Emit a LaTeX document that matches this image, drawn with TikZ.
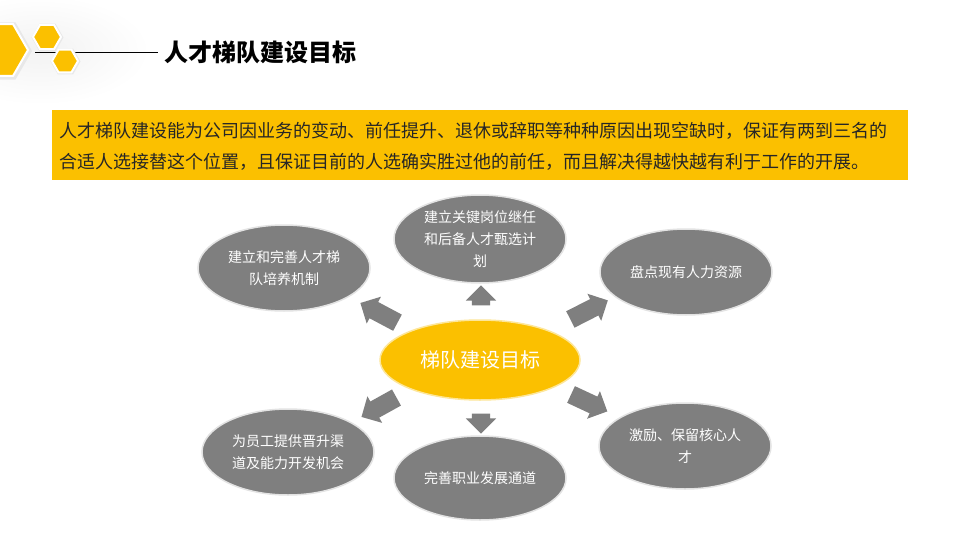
\documentclass[tikz,border=0pt]{standalone}
\usepackage{fontspec}
\newfontfamily\cjk{Noto Sans CJK SC}
\usetikzlibrary{shapes.geometric,shapes.arrows}
\definecolor{gold}{HTML}{FBC000}
\definecolor{slate}{HTML}{7F7F7F}
\begin{document}
\begin{tikzpicture}[x=1pt,y=-1pt,
  goal/.style={ellipse, fill=slate, draw=gray!22, line width=1.5pt, minimum width=172pt, minimum height=86pt, inner sep=0pt},
  goaltext/.style={font=\cjk\fontsize{14}{22}\selectfont, text=white, align=center},
  blockarrow/.style={single arrow, fill=slate, draw=none, minimum width=30pt, single arrow head extend=6pt, single arrow head indent=0pt, minimum height=#1, inner xsep=0pt, inner ysep=9pt},
  hexa/.style={regular polygon, regular polygon sides=6, fill=gold, draw=white, line width=2pt, minimum size=#1, inner sep=0pt},
  hexshadow/.style={regular polygon, regular polygon sides=6, fill=gray!18, draw=none, minimum size=#1, inner sep=0pt}
]
\useasboundingbox (0,0) rectangle (960,540);
\fill[white] (0,0) rectangle (960,540);
% soft haze behind hexagons
\shade[inner color=gray!10, outer color=white] (40,50) ellipse (110 and 55);
% title rule
\coordinate (rs) at (35,52);
\coordinate (re) at (158,52);
\draw[black, line width=0.8pt] (rs) -- (re);
% hexagons
\node[hexshadow=66pt] (h0s) at (-1,51) {};
\node[hexa=60pt] (h0) at (-2,50) {};
\node[hexshadow=32pt] (h1s) at (47.5,37.5) {};
\node[hexa=28pt] (h1) at (47,37) {};
\node[hexshadow=30pt] (h2s) at (65.5,61.5) {};
\node[hexa=26pt] (h2) at (65,61) {};
% title
\node[anchor=west, font=\cjk\bfseries\fontsize{24}{28}\selectfont, inner sep=0pt] (title) at (164,52) {人才梯队建设目标};
% yellow info box
\node[fill=gold, minimum width=856pt, minimum height=70pt, anchor=north west, inner sep=0pt] (box) at (52,110) {};
\node[anchor=west, align=left, inner sep=0pt, font=\cjk\fontsize{18}{31}\selectfont, text=black!85] (boxtext) at (59,146.5)
  {人才梯队建设能为公司因业务的变动、前任提升、退休或辞职等种种原因出现空缺时，保证有两到三名的\\
   合适人选接替这个位置，且保证目前的人选确实胜过他的前任，而且解决得越快越有利于工作的开展。};
% centre
\node[ellipse, fill=gold, draw=gold!40, line width=1.5pt, minimum width=200pt, minimum height=80pt, inner sep=0pt] (hub) at (480,360) {};
\node[font=\cjk\fontsize{20}{24}\selectfont, text=white] (hubtext) at (hub) {梯队建设目标};
% goals
\node[goal] (g1) at (284,268) {};
\node[goaltext] (t1) at (g1) {建立和完善人才梯\\队培养机制};
\node[goal, minimum height=88pt] (g2) at (480,239) {};
\node[goaltext] (t2) at (g2) {建立关键岗位继任\\和后备人才甄选计\\划};
\node[goal] (g3) at (686,272) {};
\node[goaltext] (t3) at (g3) {盘点现有人力资源};
\node[goal] (g4) at (288,452) {};
\node[goaltext] (t4) at (g4) {为员工提供晋升渠\\道及能力开发机会};
\node[goal, minimum height=84pt] (g5) at (480,478) {};
\node[goaltext] (t5) at (g5) {完善职业发展通道};
\node[goal] (g6) at (685,446) {};
\node[goaltext] (t6) at (g6) {激励、保留核心人\\才};
% block arrows
\node[blockarrow=20pt, rotate=90] (a2) at (481,300) {};
\node[blockarrow=20pt, rotate=270] (a5) at (481,419) {};
\node[blockarrow=42pt, rotate=152] (a1) at (383,315) {};
\node[blockarrow=42pt, rotate=27] (a3) at (585,312) {};
\node[blockarrow=40pt, rotate=209] (a4) at (383,405) {};
\node[blockarrow=40pt, rotate=-25] (a6) at (585,401) {};
\end{tikzpicture}
\end{document}
